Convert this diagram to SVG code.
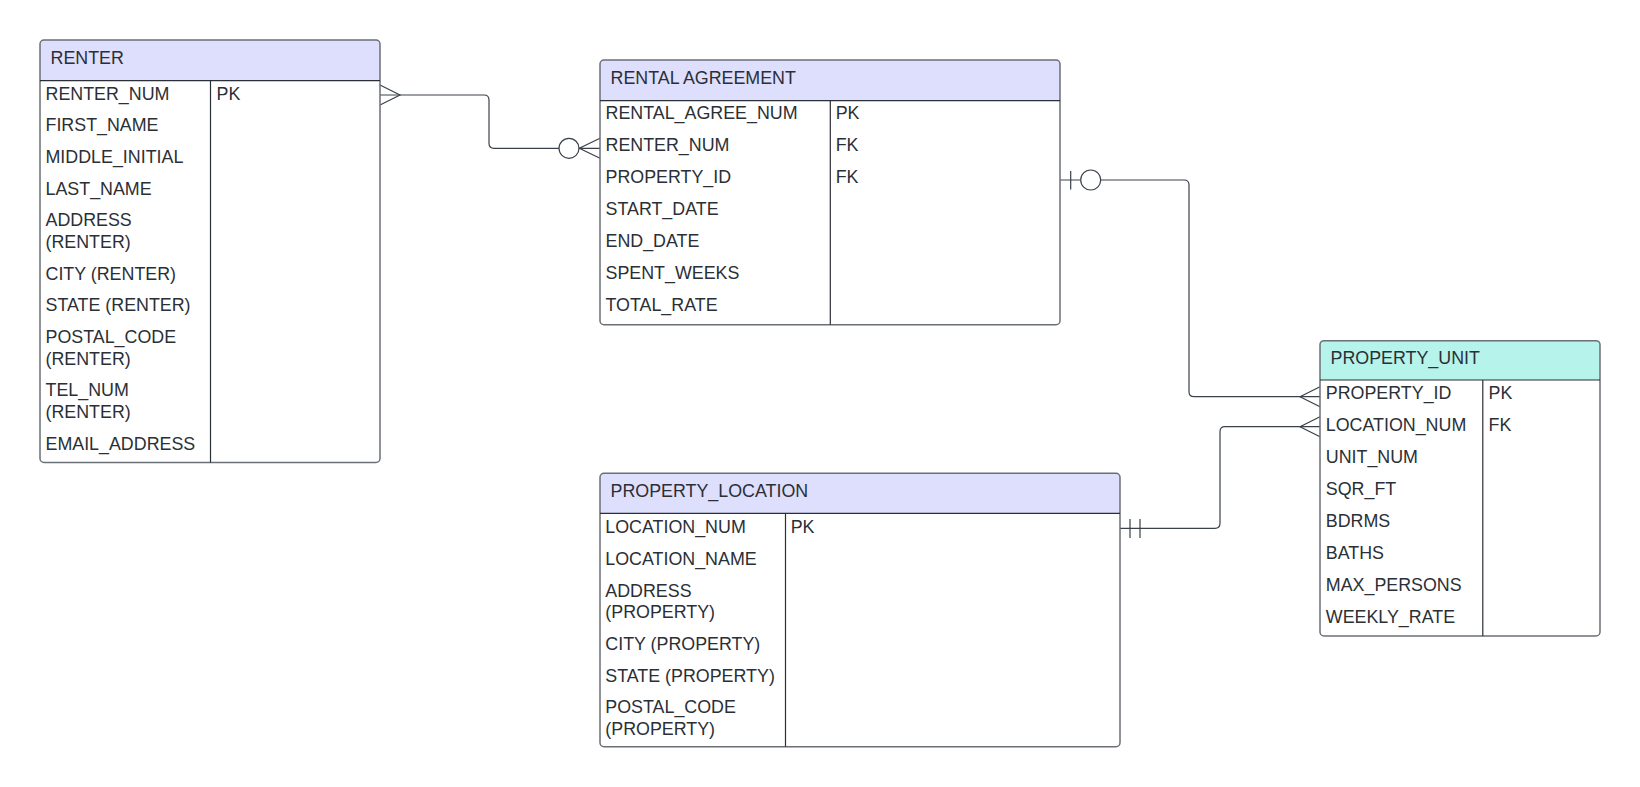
<svg xmlns="http://www.w3.org/2000/svg" width="1640" height="787" viewBox="0 0 1640 787">
<style>
  text { font-family: "Liberation Sans", Arial, sans-serif; font-size: 17.85px; fill: #2b2f36; }
  .body { fill: #ffffff; }
  .hdr { fill: #dedefd; }
  .hdr2 { fill: #b6f3ea; }
  .frame { fill: none; stroke: #6b6f76; stroke-width: 1.5; }
  .sep { stroke: #2b2f36; stroke-width: 1.2; fill: none; }
  .conn { fill: none; stroke: #3a414a; stroke-width: 1.2; }
  .circ { fill: #ffffff; stroke: #3a414a; stroke-width: 1.2; }
</style>
<rect x="0" y="0" width="1640" height="787" fill="#ffffff"/>

<g id="connectors">
  <!-- RENTER -> RENTAL AGREEMENT -->
  <path class="conn" d="M380 95 H484 Q489 95 489 100 V143.3 Q489 148.3 494 148.3 H559"/>
  <path class="conn" d="M380 85 L400 95 L380 105"/>
  <circle class="circ" cx="569" cy="148.3" r="10"/>
  <path class="conn" d="M579 148.3 H600 M600 138.3 L579.3 148.3 L600 158.3"/>
  <!-- RENTAL AGREEMENT -> PROPERTY_UNIT -->
  <path class="conn" d="M1060 180 H1080.7 M1070.7 171 V189.5"/>
  <circle class="circ" cx="1090.7" cy="180" r="10"/>
  <path class="conn" d="M1100.7 180 H1184 Q1189 180 1189 185 V391.7 Q1189 396.7 1194 396.7 H1320"/>
  <path class="conn" d="M1320 386.7 L1300 396.7 L1320 406.7"/>
  <!-- PROPERTY_LOCATION -> PROPERTY_UNIT -->
  <path class="conn" d="M1120 528.3 H1215 Q1220 528.3 1220 523.3 V431.7 Q1220 426.7 1225 426.7 H1320"/>
  <path class="conn" d="M1130 519 V538 M1140 519 V538"/>
  <path class="conn" d="M1320 416.7 L1300 426.7 L1320 436.7"/>
</g>

<g id="renter">
  <rect class="body" x="40" y="40" width="340" height="422.5" rx="4"/>
  <path class="hdr" d="M40 80.7 V44 Q40 40 44 40 H376 Q380 40 380 44 V80.7 Z"/>
  <rect class="frame" x="40" y="40" width="340" height="422.5" rx="4"/>
  <path class="sep" d="M40 80.7 H380 M210.5 80.7 V462.5"/>
  <text x="50.5" y="64">RENTER</text>
  <text x="45.5" y="99.5">RENTER_NUM</text>
  <text x="216.5" y="99.5">PK</text>
  <text x="45.5" y="131.2">FIRST_NAME</text>
  <text x="45.5" y="162.9">MIDDLE_INITIAL</text>
  <text x="45.5" y="194.6">LAST_NAME</text>
  <text x="45.5" y="226.3">ADDRESS</text>
  <text x="45.5" y="247.9">(RENTER)</text>
  <text x="45.5" y="279.6">CITY (RENTER)</text>
  <text x="45.5" y="311.3">STATE (RENTER)</text>
  <text x="45.5" y="343">POSTAL_CODE</text>
  <text x="45.5" y="364.6">(RENTER)</text>
  <text x="45.5" y="396.3">TEL_NUM</text>
  <text x="45.5" y="417.9">(RENTER)</text>
  <text x="45.5" y="449.6">EMAIL_ADDRESS</text>
</g>

<g id="rental-agreement">
  <rect class="body" x="600" y="60" width="460" height="264.7" rx="4"/>
  <path class="hdr" d="M600 100.7 V64 Q600 60 604 60 H1056 Q1060 60 1060 64 V100.7 Z"/>
  <rect class="frame" x="600" y="60" width="460" height="264.7" rx="4"/>
  <path class="sep" d="M600 100.7 H1060 M830.3 100.7 V324.7"/>
  <text x="610.5" y="84">RENTAL AGREEMENT</text>
  <text x="605.5" y="119.2">RENTAL_AGREE_NUM</text>
  <text x="835.7" y="119.2">PK</text>
  <text x="605.5" y="151.2">RENTER_NUM</text>
  <text x="835.7" y="151.2">FK</text>
  <text x="605.5" y="183.2">PROPERTY_ID</text>
  <text x="835.7" y="183.2">FK</text>
  <text x="605.5" y="215.2">START_DATE</text>
  <text x="605.5" y="247.2">END_DATE</text>
  <text x="605.5" y="279.2">SPENT_WEEKS</text>
  <text x="605.5" y="311.2">TOTAL_RATE</text>
</g>

<g id="property-unit">
  <rect class="body" x="1320" y="340.7" width="280" height="295.3" rx="4"/>
  <path class="hdr2" d="M1320 380 V344.7 Q1320 340.7 1324 340.7 H1596 Q1600 340.7 1600 344.7 V380 Z"/>
  <rect class="frame" x="1320" y="340.7" width="280" height="295.3" rx="4"/>
  <path class="sep" d="M1320 380 H1600 M1482.8 380 V636"/>
  <text x="1330.5" y="363.5">PROPERTY_UNIT</text>
  <text x="1325.8" y="399">PROPERTY_ID</text>
  <text x="1488.5" y="399">PK</text>
  <text x="1325.8" y="431">LOCATION_NUM</text>
  <text x="1488.5" y="431">FK</text>
  <text x="1325.8" y="463">UNIT_NUM</text>
  <text x="1325.8" y="495">SQR_FT</text>
  <text x="1325.8" y="527">BDRMS</text>
  <text x="1325.8" y="559">BATHS</text>
  <text x="1325.8" y="591">MAX_PERSONS</text>
  <text x="1325.8" y="623">WEEKLY_RATE</text>
</g>

<g id="property-location">
  <rect class="body" x="600" y="473.3" width="520" height="273.4" rx="4"/>
  <path class="hdr" d="M600 513.3 V477.3 Q600 473.3 604 473.3 H1116 Q1120 473.3 1120 477.3 V513.3 Z"/>
  <rect class="frame" x="600" y="473.3" width="520" height="273.4" rx="4"/>
  <path class="sep" d="M600 513.3 H1120 M785.5 513.3 V746.7"/>
  <text x="610.5" y="496.5">PROPERTY_LOCATION</text>
  <text x="605.3" y="532.5">LOCATION_NUM</text>
  <text x="790.7" y="532.5">PK</text>
  <text x="605.3" y="564.5">LOCATION_NAME</text>
  <text x="605.3" y="596.5">ADDRESS</text>
  <text x="605.3" y="618.1">(PROPERTY)</text>
  <text x="605.3" y="649.8">CITY (PROPERTY)</text>
  <text x="605.3" y="681.5">STATE (PROPERTY)</text>
  <text x="605.3" y="713.2">POSTAL_CODE</text>
  <text x="605.3" y="734.8">(PROPERTY)</text>
</g>
</svg>
